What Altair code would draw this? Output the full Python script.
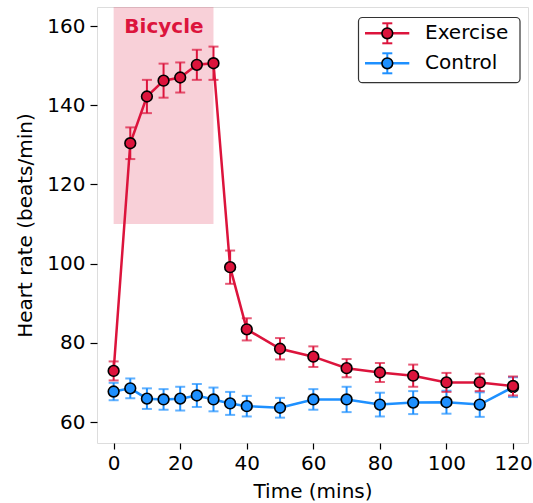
import altair as alt
import pandas as pd

# ---- data ----
times = [0, 5, 10, 15, 20, 25, 30, 35, 40, 50, 60, 70, 80, 90, 100, 110, 120]
exercise_mean = [72.9, 130.4, 142.2, 146.2, 147.0, 150.2, 150.6, 99.1, 83.4, 78.5,
                 76.5, 73.6, 72.5, 71.7, 70.0, 70.0, 69.1]
exercise_err = [2.4, 4.0, 4.2, 4.3, 3.8, 3.8, 4.2, 4.2, 2.8, 2.7, 2.6, 2.3, 2.4,
                2.8, 2.4, 2.2, 2.4]
control_mean = [67.7, 68.5, 65.9, 65.7, 65.9, 66.7, 65.7, 64.7, 64.0, 63.6, 65.7,
                65.7, 64.4, 64.9, 65.0, 64.4, 68.8]
control_err = [2.2, 2.5, 2.6, 2.6, 3.0, 2.9, 3.0, 2.9, 2.6, 2.5, 2.6, 3.2, 3.0,
               2.9, 2.9, 3.1, 2.5]

bike_start = [0]
bike_end = [30]
bike_low = [110]
bike_label = ["Bicycle"]

series_names = ["Exercise", "Control"]
series_colors = {"Exercise": "#DC143C", "Control": "#1E90FF"}

x_ticks = [0, 20, 40, 60, 80, 100, 120]
y_ticks = [60, 80, 100, 120, 140, 160]

FONT = "DejaVu Sans"
FS = 20

def frame(mean, err):
    return pd.DataFrame({
        "t": times,
        "v": mean,
        "lo": [m - e for m, e in zip(mean, err)],
        "hi": [m + e for m, e in zip(mean, err)],
    })

df = {"Exercise": frame(exercise_mean, exercise_err),
      "Control": frame(control_mean, control_err)}

xs = alt.Scale(domain=[-5, 124.5], nice=False, zero=False)
ys = alt.Scale(domain=[54.7, 164.8], nice=False, zero=False)

xaxis = alt.Axis(values=x_ticks, title="Time (mins)", grid=False, domain=False,
                 tickSize=6, tickWidth=1.2, tickColor="black",
                 labelFontSize=FS, labelColor="black", labelFont=FONT, labelPadding=4,
                 titleFontSize=FS, titleFont=FONT, titleFontWeight="normal",
                 titleColor="black", titleY=48.5, titleBaseline="middle")
yaxis = alt.Axis(values=y_ticks, title="Heart rate (beats/min)", grid=False, domain=False,
                 tickSize=7, tickWidth=1.2, tickColor="black",
                 labelFontSize=FS, labelColor="black", labelFont=FONT, labelPadding=5,
                 titleFontSize=FS, titleFont=FONT, titleFontWeight="normal",
                 titleColor="black", titleAngle=270, titleX=-72, titleY=218,
                 titleAlign="center", titleBaseline="middle")

def X(f):
    return alt.X(f, type="quantitative", scale=xs, axis=xaxis)

def Y(f):
    return alt.Y(f, type="quantitative", scale=ys, axis=yaxis)

layers = []

bike = pd.DataFrame({"x0": bike_start, "x1": bike_end, "y0": bike_low, "label": bike_label})
layers.append(alt.Chart(bike).mark_rect(color="#DC143C", opacity=0.2).encode(
    x=X("x0"), x2="x1", y=Y("y0"), y2=alt.value(0)))
layers.append(alt.Chart(bike).mark_text(
    color="#DC143C", font=FONT, fontSize=FS, fontWeight="bold",
    align="left", baseline="middle", dx=10.7).encode(
    x=X("x0"), y=alt.value(20), text="label"))

for name in ["Control", "Exercise"]:
    c = series_colors[name]
    base = alt.Chart(df[name])
    layers.append(base.mark_line(color=c, strokeWidth=2.5).encode(x=X("t"), y=Y("v")))
    layers.append(base.mark_rule(color=c, strokeWidth=2).encode(x=X("t"), y=Y("lo"), y2="hi"))
    layers.append(base.mark_tick(color=c, orient="horizontal", size=10, thickness=2).encode(
        x=X("t"), y=Y("lo")))
    layers.append(base.mark_tick(color=c, orient="horizontal", size=10, thickness=2).encode(
        x=X("t"), y=Y("hi")))
    layers.append(base.mark_point(filled=True, fill=c, stroke="black", strokeWidth=1.6,
                                  size=115, opacity=1, shape="circle").encode(
        x=X("t"), y=Y("v")))

# ---- legend (drawn by hand) ----
one = pd.DataFrame({"k": [0]})
layers.append(alt.Chart(one).mark_rect(fill="white", stroke="#333333", strokeWidth=1.2,
                                       cornerRadius=4).encode(
    x=alt.value(261.5), x2=alt.value(423), y=alt.value(10.5), y2=alt.value(75.7)))
for i, name in enumerate(series_names):
    c = series_colors[name]
    yc = 26.3 + i * 30
    ent = alt.Chart(pd.DataFrame({"label": [name]}))
    layers.append(ent.mark_rule(color=c, strokeWidth=2.5).encode(
        x=alt.value(268), x2=alt.value(312.3), y=alt.value(yc)))
    layers.append(ent.mark_rule(color=c, strokeWidth=2).encode(
        x=alt.value(290.3), y=alt.value(yc - 10), y2=alt.value(yc + 10)))
    for dy in (-10, 10):
        layers.append(ent.mark_rule(color=c, strokeWidth=2).encode(
            x=alt.value(285.3), x2=alt.value(295.3), y=alt.value(yc + dy)))
    layers.append(ent.mark_point(filled=True, fill=c, stroke="black", strokeWidth=1.6,
                                 size=115, opacity=1, shape="circle").encode(
        x=alt.value(290.3), y=alt.value(yc)))
    layers.append(ent.mark_text(font=FONT, fontSize=FS, color="black", align="left",
                                baseline="middle").encode(
        x=alt.value(328), y=alt.value(yc), text="label"))

chart = alt.layer(*layers).properties(
    width=431, height=436,
    padding={"left": 97, "top": 7, "right": 5, "bottom": 60},
    autosize=alt.AutoSizeParams(type="none"),
).configure_view(stroke="black", strokeWidth=1.3).configure(font=FONT)

chart.save("out.html", embed_options={"renderer": "svg", "actions": False})
